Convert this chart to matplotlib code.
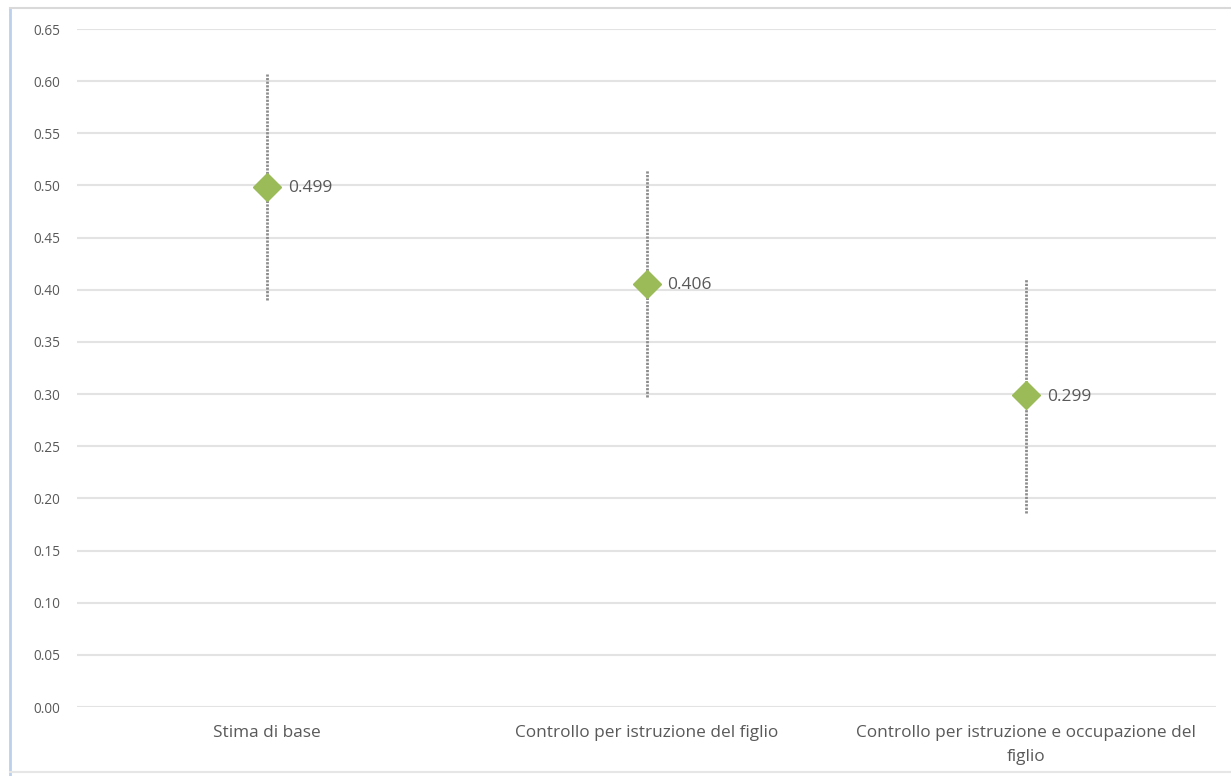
import matplotlib.pyplot as plt
import numpy as np
from matplotlib.lines import Line2D

# dati
categorie = ['Stima di base', 'Controllo per istruzione del figlio',
             'Controllo per istruzione e occupazione del\nfiglio']
stime = [0.499, 0.406, 0.299]
ci_basso = [0.390, 0.297, 0.186]
ci_alto = [0.607, 0.515, 0.410]
yticks = np.arange(0, 0.651, 0.05)

plt.rcParams['font.family'] = ['Open Sans', 'DejaVu Sans']

fig = plt.figure(figsize=(12.31, 7.76), dpi=100)
ax = fig.add_axes([0.0626, 0.0889, 0.9252, 0.8737])

x = np.arange(len(categorie))
for xi, lo, hi in zip(x, ci_basso, ci_alto):
    ax.plot([xi, xi], [lo, hi], color='#8c8c8c', lw=2, ls=(0, (0.8, 0.5)), zorder=2)
ax.plot(x, stime, ls='', marker='D', ms=14, color='#9bbb59', zorder=3)
for xi, v in zip(x, stime):
    ax.annotate(f'{v:.3f}', (xi, v), xytext=(15, -1), textcoords='offset points',
                va='center', ha='left', fontsize=12.5, color='#595959')

ax.set_xlim(-0.5, 2.5)
ax.set_ylim(0, 0.65)
ax.set_yticks(yticks)
ax.set_yticklabels([f'{t:.2f}' for t in yticks])
ax.set_xticks(x)
ax.set_xticklabels(categorie, fontsize=12.4, linespacing=1.7)
ax.grid(axis='y', color='#e3e3e3', lw=1.5)
ax.set_axisbelow(True)
for s in ax.spines.values():
    s.set_visible(False)
ax.tick_params(axis='both', length=0, colors='#595959')
ax.tick_params(axis='y', pad=12, labelsize=9.8)
ax.tick_params(axis='x', pad=13)

# cornice del grafico
fig.add_artist(Line2D([10/1231, 10/1231], [0, 1 - 8/776], color='#bcd0ec', lw=2,
                      transform=fig.transFigure))
fig.add_artist(Line2D([10/1231, 1], [1 - 8/776, 1 - 8/776], color='#d9d9d9', lw=1.5,
                      transform=fig.transFigure))
fig.add_artist(Line2D([10/1231, 1], [4/776, 4/776], color='#e6e6e6', lw=1.5,
                      transform=fig.transFigure))

plt.savefig('out.png', dpi=100)
